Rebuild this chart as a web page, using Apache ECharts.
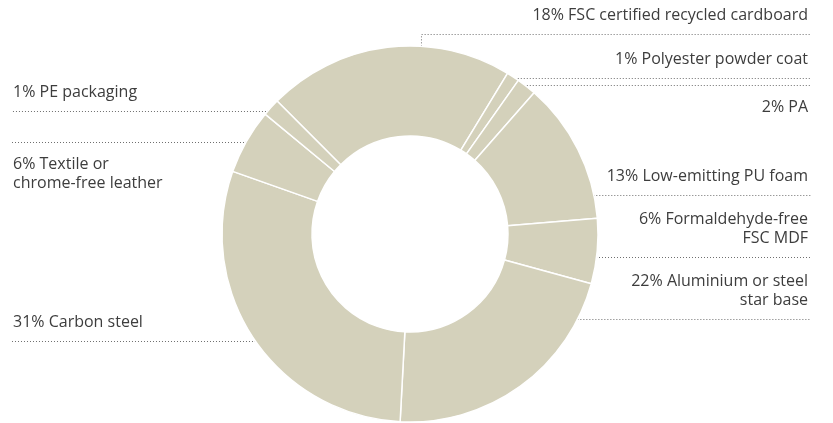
<!DOCTYPE html>
<html>
<head>
<meta charset="utf-8">
<title>Material composition</title>
<script src="https://cdn.jsdelivr.net/npm/echarts@6/dist/echarts.min.js"></script>
<style>
  html, body { margin: 0; padding: 0; background: #fff; }
  #main { width: 833px; height: 423px; }
</style>
</head>
<body>
<div id="main"></div>
<script>
// slice sizes as drawn on the ring (%), clockwise from the upper left
var materials = ['FSC certified recycled cardboard', 'Polyester powder coat', 'PA', 'Low-emitting PU foam',
    'Formaldehyde-free FSC MDF', 'Aluminium or steel star base', 'Carbon steel',
    'Textile or chrome-free leather', 'PE packaging'];
var shares = [21.2, 1.1, 1.7, 12.2, 5.6, 21.6, 29.6, 5.6, 1.5];
var labelTexts = ['18% FSC certified recycled cardboard', '1% Polyester powder coat', '2% PA',
    '13% Low-emitting PU foam', '6% Formaldehyde-free\nFSC MDF', '22% Aluminium or steel\nstar base',
    '31% Carbon steel', '6% Textile or\nchrome-free leather', '1% PE packaging'];

// where each dotted leader touches the ring (deg, counter-clockwise from 3 o'clock)
var leaderAngle = [86.5, 56, 52.5, 12, -7, -27, 214.6, 150.6, 139];
var leaderRise = [12, 0, 0, 0, 0, 0, 0, 0, 0];
var textBelow = [false, false, true, false, false, false, false, true, false];

var cx = 410, cy = 234, rOut = 188, rIn = 98;
var leftEdge = 12, rightEdge = 811;

var myChart = echarts.init(document.getElementById('main'));

var option = {
    animation: false,
    textStyle: { fontFamily: 'Open Sans' },
    series: [
        {
            type: 'pie',
            center: [cx, cy],
            radius: [rIn, rOut],
            startAngle: 135,
            clockwise: true,
            avoidLabelOverlap: false,
            silent: true,
            itemStyle: {
                color: '#d4d1bb',
                borderColor: '#fff',
                borderWidth: 1.5
            },
            label: {
                show: true,
                position: 'outside',
                color: '#3d3d3d',
                fontSize: 16,
                lineHeight: 18.5,
                fontFamily: 'Open Sans',
                formatter: function (p) {
                    return labelTexts[p.dataIndex];
                }
            },
            labelLine: {
                show: true,
                smooth: false,
                lineStyle: {
                    color: '#6f6f6f',
                    width: 1,
                    type: [1, 2]
                }
            },
            labelLayout: function (params) {
                var i = params.dataIndex;
                var a = leaderAngle[i] * Math.PI / 180;
                var px = cx + rOut * Math.cos(a);
                var py = cy - rOut * Math.sin(a);
                var ly = Math.round(py - leaderRise[i]) + 0.5;
                var right = Math.cos(a) > 0;
                var ex = right ? rightEdge : leftEdge;
                return {
                    x: right ? rightEdge - 3 : leftEdge + 1,
                    y: textBelow[i] ? ly + 13 : ly - 10,
                    align: right ? 'right' : 'left',
                    verticalAlign: textBelow[i] ? 'top' : 'bottom',
                    labelLinePoints: [[px, py], [px, ly], [ex, ly]]
                };
            },
            data: materials.map(function (name, i) {
                return { name: name, value: shares[i] };
            })
        }
    ]
};

myChart.setOption(option);
</script>
</body>
</html>
